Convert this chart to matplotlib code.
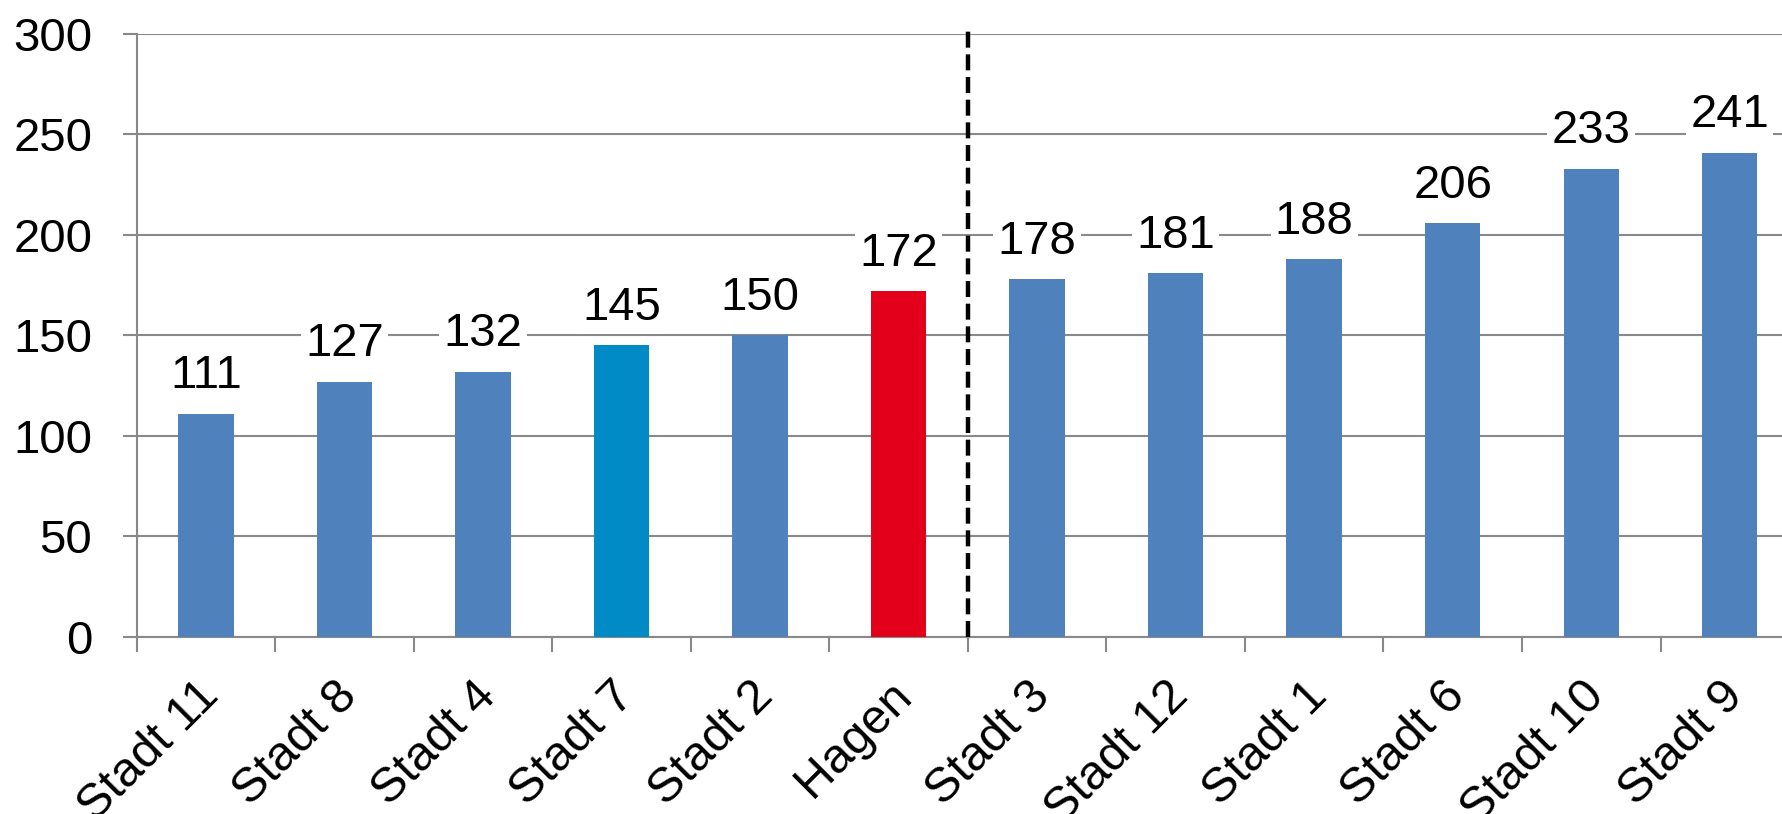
import matplotlib
matplotlib.use("Agg")
import matplotlib.pyplot as plt
from matplotlib.ticker import FixedLocator
from matplotlib.transforms import ScaledTranslation

plt.rcParams["font.family"] = ["Liberation Sans", "DejaVu Sans"]

# ---- data ----------------------------------------------------------------------
cities = ["Stadt 11", "Stadt 8", "Stadt 4", "Stadt 7", "Stadt 2", "Hagen",
          "Stadt 3", "Stadt 12", "Stadt 1", "Stadt 6", "Stadt 10", "Stadt 9"]
values = [111, 127, 132, 145, 150, 172, 178, 181, 188, 206, 233, 241]
colors = ["#4F81BD"] * len(cities)
colors[3] = "#008BC6"   # Stadt 7 highlighted
colors[5] = "#E2001A"   # Hagen
split_after = "Hagen"   # dashed separator right of this category
yticks = [0, 50, 100, 150, 200, 250, 300]

GRID = "#898989"
FS = 34

fig = plt.figure(figsize=(17.83, 8.14), dpi=100)
ax = fig.add_axes([0.0766, 0.2177, 0.9324, 0.7405])

x = list(range(len(cities)))
ax.bar(x, values, width=0.4, color=colors, zorder=3)

ax.set_xlim(-0.5, len(cities) - 0.5)
ax.set_ylim(0, 300)
ax.set_yticks(yticks)
ax.yaxis.grid(True, color=GRID, linewidth=1.5, zorder=0)
ax.set_axisbelow(True)

for s in ("top", "right"):
    ax.spines[s].set_visible(False)
for s in ("left", "bottom"):
    ax.spines[s].set_color(GRID)
    ax.spines[s].set_linewidth(1.5)

ax.set_xticks(x)
ax.set_xticklabels(cities, rotation=45, ha="right", rotation_mode="anchor", fontsize=35)
ax.xaxis.set_minor_locator(FixedLocator([i - 0.5 for i in range(len(cities) + 1)]))
ax.tick_params(axis="x", which="major", length=0, pad=26)
ax.tick_params(axis="x", which="minor", length=11, width=1.5, color=GRID)
ax.tick_params(axis="y", length=10, width=1.5, color=GRID, labelsize=FS, pad=22)

# nudge rotated labels a little to the left
shift = ScaledTranslation(-0.10, 0, fig.dpi_scale_trans)
for lab in ax.get_xticklabels():
    lab.set_transform(lab.get_transform() + shift)

# value labels with white box over the gridlines
for xi, v in zip(x, values):
    ax.annotate(str(v), (xi, v), xytext=(0, 11), textcoords="offset points",
                ha="center", va="bottom", fontsize=FS, zorder=4,
                bbox=dict(facecolor="white", edgecolor="none", pad=3))

# dashed separator
sep = cities.index(split_after) + 0.5
ax.plot([sep, sep], [0, 303], color="black", linewidth=3.2, linestyle=(0, (3.6, 1.5)),
        clip_on=False, zorder=5)

fig.savefig("out.png", dpi=100)
